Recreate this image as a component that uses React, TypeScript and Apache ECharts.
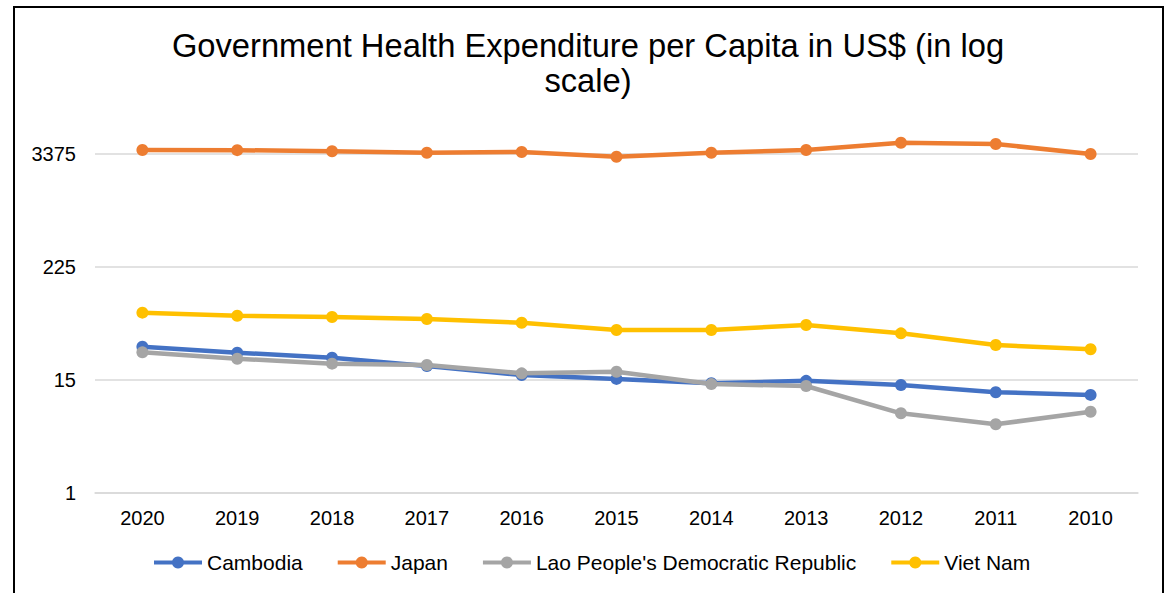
import React, { useEffect, useRef } from "react";
import * as echarts from "echarts";

const categories = ["2020", "2019", "2018", "2017", "2016", "2015", "2014", "2013", "2012", "2011", "2010"];
const cambodia = [33.3, 28.9, 25.6, 21.0, 16.9, 15.4, 13.9, 14.7, 13.3, 11.2, 10.5];
const japan = [3715, 3700, 3601, 3482, 3540, 3163, 3482, 3715, 4425, 4289, 3375];
const lao = [29.1, 25.0, 22.2, 21.5, 17.6, 18.3, 13.6, 13.0, 6.75, 5.19, 7.0];
const vietNam = [75.3, 70.0, 67.9, 64.7, 59.2, 49.7, 49.7, 56.0, 45.9, 34.7, 31.3];
const seriesNames = ["Cambodia", "Japan", "Lao People's Democratic Republic", "Viet Nam"];
const seriesColors = ["#4472C4", "#ED7D31", "#A5A5A5", "#FFC000"];
const yTickLabels = ["1", "15", "225", "3375"];
const titleText = "Government Health Expenditure per Capita in US$ (in log\nscale)";

const FONT = "Liberation Sans, Arial, sans-serif";

export default function App() {
  const ref = useRef<HTMLDivElement>(null);
  useEffect(() => {
    if (!ref.current) return;
    const chart = echarts.init(ref.current, null, { renderer: "svg" });
    const dataSets = [cambodia, japan, lao, vietNam];
    chart.setOption({
      animation: false,
      backgroundColor: "#ffffff",
      textStyle: { fontFamily: FONT },
      graphic: [
        {
          type: "rect",
          shape: { x: 14, y: 7, width: 1149, height: 640 },
          style: { fill: "none", stroke: "#000000", lineWidth: 2 },
          silent: true,
        },
        {
          type: "text",
          x: 588,
          y: 28,
          style: {
            text: titleText,
            fontFamily: FONT,
            fontSize: 32.7,
            lineHeight: 35,
            fill: "#000000",
            align: "center",
            verticalAlign: "top",
          },
        },
      ],
      legend: {
        bottom: 15,
        left: 147,
        itemWidth: 48,
        itemHeight: 15,
        itemGap: 33,
        lineStyle: { width: 4 },
        textStyle: { fontFamily: FONT, fontSize: 21, color: "#000000" },
        data: seriesNames,
      },
      grid: { left: 95, right: 28, top: 154, bottom: 100 },
      xAxis: {
        type: "category",
        data: categories,
        boundaryGap: true,
        axisLine: { show: true, lineStyle: { color: "#D9D9D9", width: 1.5 } },
        axisTick: { show: false },
        axisLabel: { fontFamily: FONT, fontSize: 20, color: "#000000", margin: 15 },
      },
      yAxis: {
        type: "log",
        logBase: 15,
        min: 1,
        max: 3375,
        splitNumber: 3,
        axisLine: { show: false },
        axisTick: { show: false },
        splitLine: { show: true, lineStyle: { color: "#D9D9D9", width: 1.5 } },
        axisLabel: {
          fontFamily: FONT,
          fontSize: 20,
          color: "#000000",
          margin: 19,
          formatter: (v: number) => {
            const e = Math.round(Math.log(v) / Math.log(15));
            return yTickLabels[e] ?? String(Math.round(v));
          },
        },
      },
      series: seriesNames.map((name, i) => ({
        name,
        type: "line",
        data: dataSets[i],
        clip: false,
        symbol: "circle",
        symbolSize: 12,
        lineStyle: { width: 4.5, color: seriesColors[i] },
        itemStyle: { color: seriesColors[i] },
        z: 2 + i,
      })),
    });
    return () => chart.dispose();
  }, []);
  return (
    <div
      ref={ref}
      style={{ position: "absolute", left: 0, top: 0, width: 1166, height: 593 }}
    />
  );
}
